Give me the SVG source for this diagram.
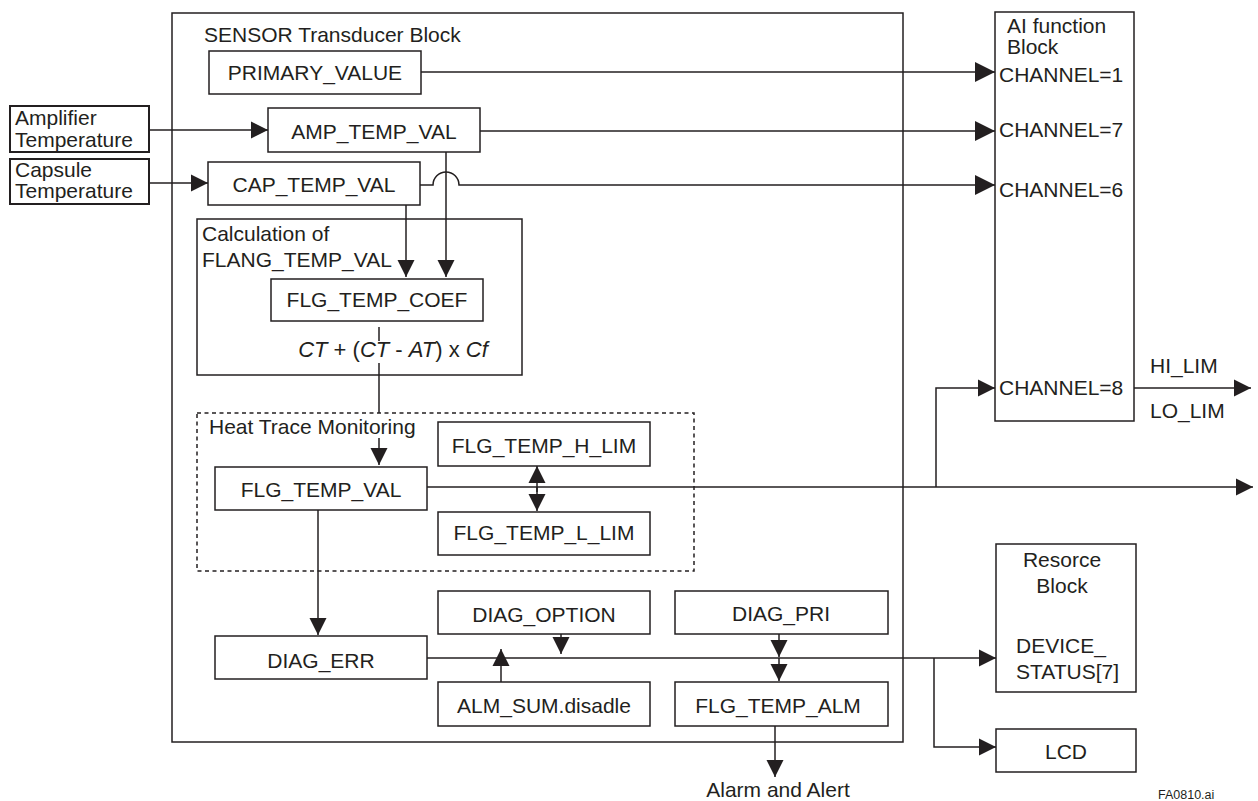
<svg xmlns="http://www.w3.org/2000/svg" width="1258" height="801" viewBox="0 0 1258 801">
<style>
.box{fill:#fff;stroke:#231f20;stroke-width:1.5}
.frame{fill:none;stroke:#231f20;stroke-width:1.5}
.dash{fill:none;stroke:#231f20;stroke-width:1.5;stroke-dasharray:4 3.5}
.ln{fill:none;stroke:#231f20;stroke-width:1.5}
.arr{fill:none;stroke:#231f20;stroke-width:1.5;marker-end:url(#ah)}
.arrb{fill:none;stroke:#231f20;stroke-width:1.5;marker-end:url(#ahb)}
text{font-family:"Liberation Sans",Arial,sans-serif;font-size:21px;fill:#231f20}
.c{text-anchor:middle}
.i{font-style:italic}
</style>
<defs>
<marker id="ah" markerUnits="userSpaceOnUse" markerWidth="18" markerHeight="18" refX="17" refY="8.5" orient="auto" viewBox="0 0 18 17">
<path d="M0,0 L17,8.5 L0,17 Z" fill="#231f20"/>
</marker>
<marker id="ahb" markerUnits="userSpaceOnUse" markerWidth="21" markerHeight="21" refX="20" refY="10" orient="auto" viewBox="0 0 21 20">
<path d="M0,0 L20,10 L0,20 Z" fill="#231f20"/>
</marker>
</defs>

<g id="sensor-block">
<rect class="frame" x="172" y="13" width="731" height="729"/>
<text x="204" y="42">SENSOR Transducer Block</text>
</g>

<g id="ai-block">
<rect class="box" x="995" y="12" width="139" height="409"/>
<text x="1007" y="33">AI function</text>
<text x="1007" y="54">Block</text>
<text x="999" y="82">CHANNEL=1</text>
<text x="999" y="137">CHANNEL=7</text>
<text x="999" y="197">CHANNEL=6</text>
<text x="999" y="395">CHANNEL=8</text>
</g>

<g id="hi-lo-labels">
<text x="1150" y="373">HI_LIM</text>
<text x="1150" y="418">LO_LIM</text>
</g>

<g id="amp-temp-input">
<rect x="10" y="106" width="139" height="46" fill="#fff" stroke="#231f20" stroke-width="2"/>
<text x="15" y="125">Amplifier</text>
<text x="15" y="147">Temperature</text>
</g>

<g id="cap-temp-input">
<rect x="10" y="159" width="139" height="45" fill="#fff" stroke="#231f20" stroke-width="2"/>
<text x="15" y="177">Capsule</text>
<text x="15" y="198">Temperature</text>
</g>

<g id="primary-value">
<rect class="box" x="209" y="51" width="212" height="43"/>
<text class="c" x="315" y="80">PRIMARY_VALUE</text>
</g>

<g id="amp-temp-val">
<rect class="box" x="268" y="108" width="212" height="44"/>
<text class="c" x="374" y="139">AMP_TEMP_VAL</text>
</g>

<g id="cap-temp-val">
<rect class="box" x="208" y="162" width="212" height="43"/>
<text class="c" x="314" y="192">CAP_TEMP_VAL</text>
</g>

<g id="calculation">
<rect class="frame" x="197" y="219" width="325" height="156"/>
<text x="202" y="241">Calculation of</text>
<text x="202" y="267">FLANG_TEMP_VAL</text>
</g>

<g id="flg-temp-coef">
<rect class="box" x="271" y="279" width="212" height="42"/>
<text class="c" x="377" y="307">FLG_TEMP_COEF</text>
</g>

<g id="formula">
<text class="c" x="393" y="357" style="font-size:22px"><tspan class="i">CT</tspan> + (<tspan class="i">CT</tspan> - <tspan class="i">AT</tspan>) x <tspan class="i">Cf</tspan></text>
</g>

<g id="heat-trace">
<rect class="dash" x="197" y="413" width="497" height="158"/>
<text x="209" y="434">Heat Trace Monitoring</text>
</g>

<g id="flg-temp-val">
<rect class="box" x="215" y="467" width="212" height="43"/>
<text class="c" x="321" y="497">FLG_TEMP_VAL</text>
</g>

<g id="flg-temp-h-lim">
<rect class="box" x="438" y="422" width="212" height="44"/>
<text class="c" x="544" y="453">FLG_TEMP_H_LIM</text>
</g>

<g id="flg-temp-l-lim">
<rect class="box" x="438" y="512" width="212" height="43"/>
<text class="c" x="544" y="540">FLG_TEMP_L_LIM</text>
</g>

<g id="diag-err">
<rect class="box" x="215" y="636" width="212" height="43"/>
<text class="c" x="321" y="668">DIAG_ERR</text>
</g>

<g id="diag-option">
<rect class="box" x="438" y="591" width="212" height="43"/>
<text class="c" x="544" y="622">DIAG_OPTION</text>
</g>

<g id="alm-sum">
<rect class="box" x="438" y="682" width="212" height="44"/>
<text class="c" x="544" y="713">ALM_SUM.disadle</text>
</g>

<g id="diag-pri">
<rect class="box" x="675" y="591" width="213" height="43"/>
<text class="c" x="781" y="621">DIAG_PRI</text>
</g>

<g id="flg-temp-alm">
<rect class="box" x="675" y="682" width="213" height="44"/>
<text class="c" x="778" y="713">FLG_TEMP_ALM</text>
</g>

<g id="resource-block">
<rect class="box" x="996" y="544" width="140" height="148"/>
<text class="c" x="1062" y="567">Resorce</text>
<text class="c" x="1062" y="593">Block</text>
<text x="1016" y="653">DEVICE_</text>
<text x="1016" y="679">STATUS[7]</text>
</g>

<g id="lcd">
<rect class="box" x="996" y="729" width="140" height="43"/>
<text class="c" x="1066" y="759">LCD</text>
</g>

<g id="alarm-label">
<text class="c" x="778" y="797">Alarm and Alert</text>
</g>

<g id="figure-id">
<text x="1158" y="799" style="font-size:12.5px">FA0810.ai</text>
</g>

<g id="connectors">
<path class="arrb" d="M421,72 H995"/>
<path class="arr" d="M149,130 H268"/>
<path class="arrb" d="M480,131 H995"/>
<path class="arr" d="M149,183 H208"/>
<path class="arrb" d="M420,185 H433 A13,13 0 0 1 459,185 H995"/>
<path class="arr" d="M406,205 V277"/>
<path class="arr" d="M446,152 V277"/>
<path class="ln" d="M379,327 V341"/>
<path class="ln" d="M379,363 V413"/>
<path class="arr" d="M379,438 V465"/>
<path class="arr" d="M537,492 V466"/>
<path class="arr" d="M537,487 V511"/>
<path class="arr" d="M427,487 H1253"/>
<path class="arr" d="M936,487 V388 H995"/>
<path class="arr" d="M1134,388 H1251"/>
<path class="arr" d="M318,510 V635"/>
<path class="arr" d="M427,658 H996"/>
<path class="arr" d="M934,658 V747 H996"/>
<path class="arr" d="M561,634 V654"/>
<path class="arr" d="M501,682 V649"/>
<path class="arr" d="M779,634 V657"/>
<path class="arr" d="M779,658 V681"/>
<path class="arr" d="M775,726 V777"/>
</g>
</svg>
